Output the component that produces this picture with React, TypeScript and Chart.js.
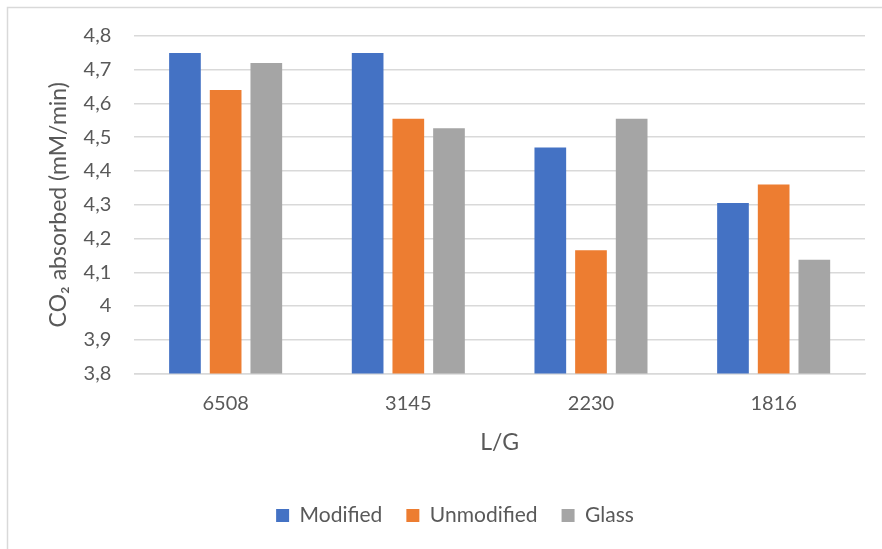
import React, { useEffect, useRef } from "react";
import { Chart, registerables } from "chart.js";

Chart.register(...registerables);

// L/G ratios on the category axis
const categories = ["6508", "3145", "2230", "1816"];

// CO2 absorption rate, mM/min
const modified = [4.75, 4.75, 4.47, 4.305];
const unmodified = [4.64, 4.555, 4.165, 4.36];
const glass = [4.72, 4.527, 4.555, 4.137];

const seriesNames = ["Modified", "Unmodified", "Glass"];
const seriesColors = ["#4472C4", "#ED7D31", "#A5A5A5"];

const yMin = 3.8;
const yMax = 4.8;
const yStep = 0.1;

const xTitle = "L/G";
const yTitle = "CO\u2082 absorbed (mM/min)";

const FONT = "Lato, 'DejaVu Sans', sans-serif";
const TEXT = "#595959";
const GRID = "#D9D9D9";

// light frame along the top and left edges of the chart area
const framePlugin = {
  id: "frame",
  beforeDraw(chart: any) {
    const { ctx, width, height } = chart;
    ctx.save();
    ctx.strokeStyle = GRID;
    ctx.lineWidth = 1.5;
    ctx.beginPath();
    ctx.moveTo(7.5, height);
    ctx.lineTo(7.5, 7.5);
    ctx.lineTo(width, 7.5);
    ctx.stroke();
    ctx.restore();
  },
};

export default function App() {
  const canvasRef = useRef<HTMLCanvasElement | null>(null);

  useEffect(() => {
    if (!canvasRef.current) return;
    const values = [modified, unmodified, glass];
    const chart = new Chart(canvasRef.current, {
      type: "bar",
      data: {
        labels: categories,
        datasets: seriesNames.map((name, i) => ({
          label: name,
          data: values[i],
          backgroundColor: seriesColors[i],
          borderWidth: 0,
          categoryPercentage: 0.668,
          barPercentage: 0.779,
        })),
      },
      options: {
        animation: false,
        responsive: true,
        maintainAspectRatio: false,
        layout: { padding: { left: 45, right: 17, top: 36, bottom: 13 } },
        plugins: {
          tooltip: { enabled: false },
          legend: {
            position: "bottom",
            labels: {
              color: TEXT,
              font: { family: FONT, size: 21 },
              boxWidth: 13,
              boxHeight: 13,
              padding: 24,
            },
          },
        },
        scales: {
          x: {
            grid: { display: false, drawTicks: false },
            border: { display: true, color: GRID, width: 1.5 },
            ticks: {
              color: TEXT,
              font: { family: FONT, size: 20 },
              padding: 18.5,
            },
            title: {
              display: true,
              text: xTitle,
              color: TEXT,
              font: { family: FONT, size: 23 },
              padding: { top: 0, bottom: 24.5 },
            },
            afterFit(scale: any) {
              scale.height = 107.5;
            },
          },
          y: {
            min: yMin,
            max: yMax,
            grid: { color: GRID, lineWidth: 1.5, drawTicks: false },
            border: { display: false },
            ticks: {
              stepSize: yStep,
              color: TEXT,
              font: { family: FONT, size: 20 },
              padding: 23,
              callback: (v: any) => String(Number(Number(v).toFixed(1))).replace(".", ","),
            },
            title: {
              display: true,
              text: yTitle,
              color: TEXT,
              font: { family: FONT, size: 23 },
              padding: { top: 0, bottom: 0 },
            },
            afterFit(scale: any) {
              scale.width = 89.3;
            },
          },
        },
      },
      plugins: [framePlugin],
    });
    return () => chart.destroy();
  }, []);

  return (
    <div
      style={{
        position: "absolute",
        left: 0,
        top: 0,
        width: 882,
        height: 549,
        background: "#ffffff",
      }}
    >
      <canvas ref={canvasRef} />
    </div>
  );
}
